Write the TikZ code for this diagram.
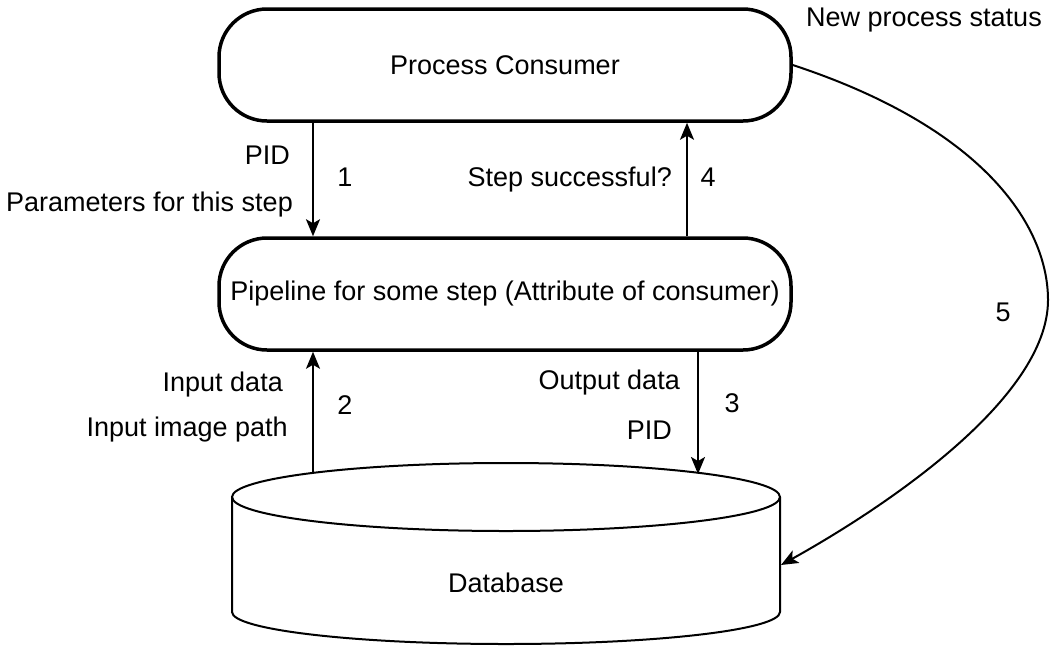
\documentclass[tikz,border=0pt]{standalone}
\usepackage{fontspec}
\setmainfont{Liberation Sans}
\usetikzlibrary{arrows.meta}
\begin{document}
\begin{tikzpicture}[x=1pt,y=-1pt,
  box/.style={draw, line width=3.5pt, rounded corners=48pt, minimum width=572pt, minimum height=112pt, inner sep=0pt, font=\fontsize{27}{32}\selectfont},
  lbl/.style={font=\fontsize{27}{32}\selectfont, inner sep=0pt},
  arr/.style={line width=2pt, -{Stealth[length=17pt,width=14pt,inset=4pt]}},
  cyl/.style={line width=2pt}
]
\useasboundingbox (0,0) rectangle (1051,646);
\node[box] (pc) at (505,65) {Process Consumer};
\node[box] (pl) at (505,294) {Pipeline for some step (Attribute of consumer)};
% database cylinder
\draw[cyl] (232,497) -- (232,612) arc[start angle=180, end angle=0, x radius=274, y radius=32] -- (780,497);
\draw[cyl] (506,497) ellipse[x radius=274, y radius=34];
\node[lbl] (db) at (506,583) {Database};
\coordinate (dbA) at (313,474);
\coordinate (dbB) at (698,474);
\coordinate (dbR) at (781,565);
% arrows
\draw[arr] ([xshift=-192pt]pc.south) -- ([xshift=-192pt]pl.north);
\draw[arr] ([xshift=182pt]pl.north) -- ([xshift=182pt]pc.south);
\draw[arr] (dbA) -- (dbA |- pl.south);
\draw[arr] (dbB |- pl.south) -- (dbB);
\draw[arr] (pc.east) .. controls (990,130) and (1048,230) .. (1048,300) .. controls (1048,400) and (880,510) .. (dbR);
% labels
\node[lbl, anchor=east] (l1) at (290,155) {PID};
\node[lbl] (n1) at (345,177) {1};
\node[lbl, anchor=east] (l2) at (293,205) {Parameters for this step};
\node[lbl, anchor=east] (l3) at (672,180) {Step successful?};
\node[lbl] (n4) at (708,177) {4};
\node[lbl, anchor=east] (l4) at (283,385) {Input data};
\node[lbl] (n2) at (345,405) {2};
\node[lbl, anchor=east] (l5) at (288,430) {Input image path};
\node[lbl, anchor=east] (l6) at (680,383) {Output data};
\node[lbl] (n3) at (732,403) {3};
\node[lbl, anchor=east] (l7) at (672,430) {PID};
\node[lbl] (n5) at (1003,312) {5};
\node[lbl, anchor=west] (l8) at (806,20) {New process status};
\end{tikzpicture}
\end{document}
